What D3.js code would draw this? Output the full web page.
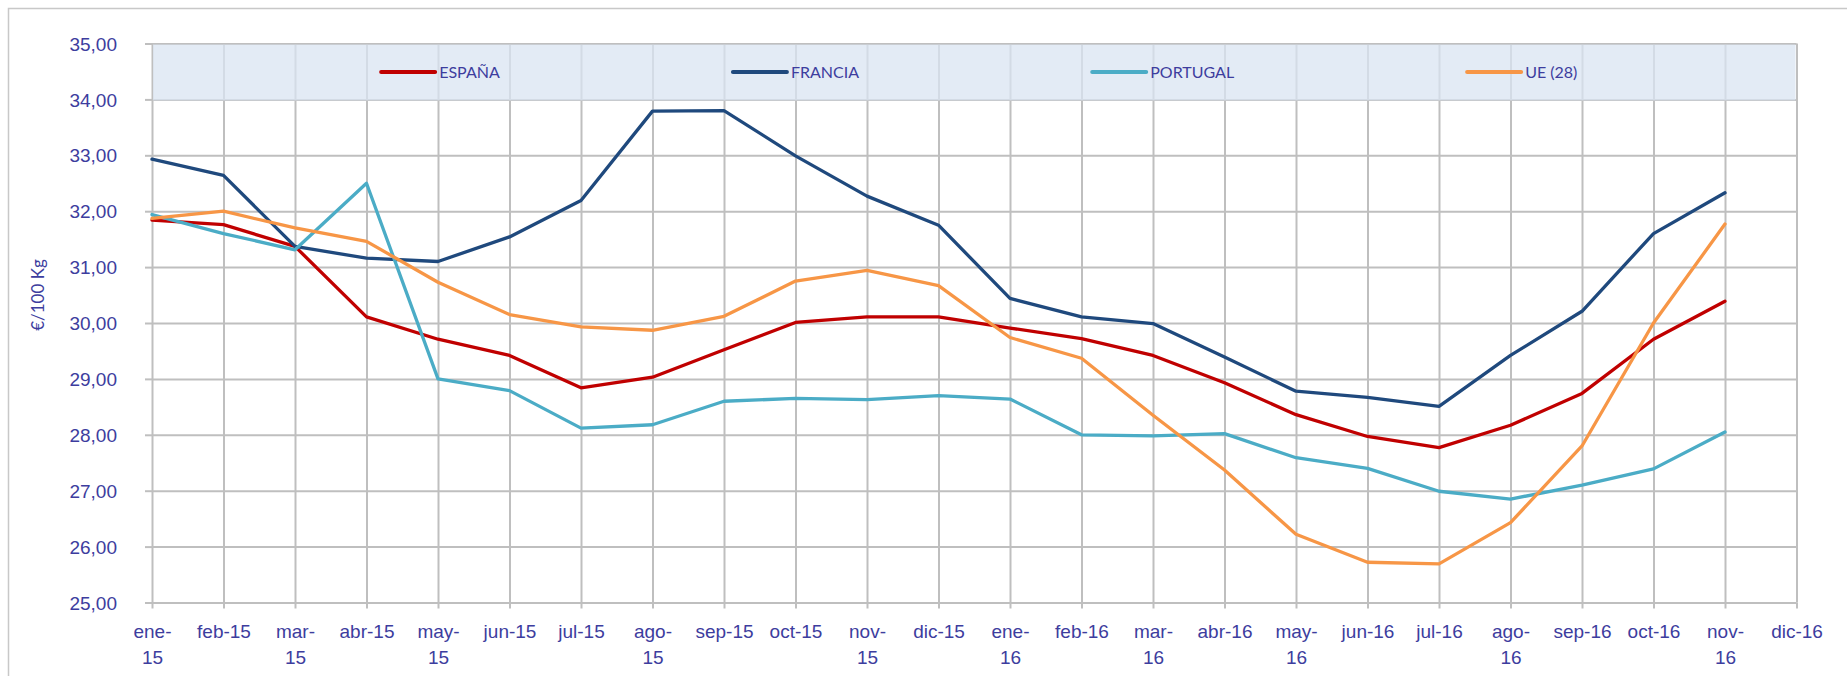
<!DOCTYPE html>
<html>
<head>
<meta charset="utf-8">
<script src="https://cdn.jsdelivr.net/npm/d3@7"></script>
<style>
  html, body { margin: 0; padding: 0; background: #fff; }
  svg { display: block; font-family: Lato, "Noto Sans", sans-serif; }
  .grid line { stroke: #bfbfbf; stroke-width: 2; }
  .grid path { display: none; }
  .axis path { display: none; }
  .axis line { stroke: #bfbfbf; stroke-width: 2; }
  .axis text { fill: #3d3d9e; font-size: 19px; }
</style>
</head>
<body>
<div id="chart"></div>
<script>
// meses (eje x)
const months = ['ene-15', 'feb-15', 'mar-15', 'abr-15', 'may-15', 'jun-15', 'jul-15', 'ago-15',
  'sep-15', 'oct-15', 'nov-15', 'dic-15', 'ene-16', 'feb-16', 'mar-16', 'abr-16', 'may-16',
  'jun-16', 'jul-16', 'ago-16', 'sep-16', 'oct-16', 'nov-16', 'dic-16'];

// etiquetas que Excel parte en dos lineas
const wrappedLabels = ['ene-15', 'mar-15', 'may-15', 'ago-15', 'nov-15', 'ene-16', 'mar-16',
  'may-16', 'ago-16', 'nov-16'];

const yTicks = [25, 26, 27, 28, 29, 30, 31, 32, 33, 34, 35];

const seriesNames = ['ESPAÑA', 'FRANCIA', 'PORTUGAL', 'UE (28)'];

const espana = [31.84, 31.76, 31.37, 30.11, 29.71, 29.42, 28.84, 29.03, 29.52, 30.01, 30.11, 30.11,
  29.91, 29.72, 29.42, 28.93, 28.36, 27.97, 27.77, 28.17, 28.74, 29.71, 30.39];
const francia = [32.93, 32.64, 31.37, 31.16, 31.10, 31.54, 32.19, 33.79, 33.80, 32.99, 32.27, 31.75,
  30.44, 30.11, 29.99, 29.39, 28.78, 28.67, 28.51, 29.42, 30.21, 31.60, 32.33];
const portugal = [31.94, 31.60, 31.31, 32.50, 29.00, 28.79, 28.12, 28.18, 28.60, 28.65, 28.63, 28.70,
  28.64, 28.00, 27.98, 28.02, 27.59, 27.40, 26.99, 26.85, 27.10, 27.39, 28.05];
const ue28 = [31.87, 32.00, 31.70, 31.46, 30.73, 30.15, 29.93, 29.87, 30.12, 30.75, 30.94, 30.67,
  29.74, 29.37, 28.35, 27.37, 26.22, 25.72, 25.69, 26.43, 27.80, 30.00, 31.77];

const colors = ['#c00000', '#1f497d', '#4bacc6', '#f79646'];

const width = 1847, height = 676;
const margin = { top: 43.5, right: 50.5, bottom: 73.5, left: 152 };
const w = width - margin.left - margin.right;
const h = height - margin.top - margin.bottom;

const svg = d3.select('#chart').append('svg')
  .attr('width', width)
  .attr('height', height);

// borde del area del grafico
svg.append('rect')
  .attr('x', 8.5).attr('y', 8.5)
  .attr('width', width + 20).attr('height', height + 20)
  .attr('fill', 'none')
  .attr('stroke', '#c8c8c8')
  .attr('stroke-width', 1.5);

const chart = svg.append('g')
  .attr('transform', `translate(${margin.left}, ${margin.top})`);

const x = d3.scalePoint().domain(months).range([0, w]);
const y = d3.scaleLinear().domain([25, 35]).range([h, 0]);

const es = d3.formatLocale({ decimal: ',', thousands: '.', grouping: [3], currency: ['', '€'] });
const fmt = es.format('.2f');

// rejilla
chart.append('g')
  .attr('class', 'grid')
  .call(d3.axisLeft(y).tickValues(yTicks).tickSize(-w).tickFormat(''));
chart.append('g')
  .attr('class', 'grid')
  .call(d3.axisBottom(x).tickSize(h).tickFormat(''));

// leyenda (franja superior)
const legend = chart.append('g').attr('class', 'legend');
legend.append('rect')
  .attr('x', 1).attr('y', 1)
  .attr('width', w - 2)
  .attr('height', y(34) - y(35))
  .attr('fill', 'rgb(218,228,242)')
  .attr('fill-opacity', 0.75);

// ejes
const yAxis = chart.append('g')
  .attr('class', 'axis')
  .call(d3.axisLeft(y).tickValues(yTicks).tickSize(7).tickPadding(28).tickFormat(fmt));
yAxis.selectAll('text').attr('dy', '0.35em');

const xAxis = chart.append('g')
  .attr('class', 'axis')
  .attr('transform', `translate(0, ${h})`)
  .call(d3.axisBottom(x).tickSize(6));

xAxis.selectAll('text').each(function (d) {
  const t = d3.select(this).text(null).attr('dy', null).attr('y', null);
  const lines = wrappedLabels.includes(d) ? [d.slice(0, 4), d.slice(4)] : [d];
  lines.forEach((s, i) => {
    t.append('tspan').attr('x', 0).attr('y', 35 + i * 26.5).text(s);
  });
});

// titulo eje y
svg.append('text')
  .attr('transform', `translate(44, ${margin.top + y(30.5)}) rotate(-90)`)
  .attr('text-anchor', 'middle')
  .attr('fill', '#3d3d9e')
  .attr('font-size', 17)
  .text('€/100 Kg');

// lineas
const series = [espana, francia, portugal, ue28];
const line = d3.line()
  .x((d, i) => x(months[i]))
  .y(d => y(d));

chart.append('g').selectAll('path')
  .data(series)
  .enter()
  .append('path')
  .attr('d', d => line(d))
  .attr('fill', 'none')
  .attr('stroke', (d, i) => colors[i])
  .attr('stroke-width', 3.3)
  .attr('stroke-linejoin', 'round')
  .attr('stroke-linecap', 'round');

// entradas de la leyenda, separadas por un hueco igual
const legendY = (y(35) + y(34)) / 2 + 0.5;
const items = legend.selectAll('.item')
  .data(seriesNames)
  .enter()
  .append('g')
  .attr('class', 'item');
items.append('line')
  .attr('x1', 0).attr('x2', 54)
  .attr('y1', legendY).attr('y2', legendY)
  .attr('stroke', (d, i) => colors[i])
  .attr('stroke-width', 4)
  .attr('stroke-linecap', 'round');
items.append('text')
  .attr('x', 58)
  .attr('y', legendY)
  .attr('dy', '0.35em')
  .attr('fill', '#3d3d9e')
  .attr('font-size', 16)
  .text(d => d);

const gap = 233;
const itemW = items.nodes().map(n => n.getBBox().width);
const total = d3.sum(itemW) + gap * (itemW.length - 1);
let cur = w / 2 + 5 - total / 2;
items.attr('transform', (d, i) => {
  const tx = cur;
  cur += itemW[i] + gap;
  return `translate(${tx}, 0)`;
});
</script>
</body>
</html>
